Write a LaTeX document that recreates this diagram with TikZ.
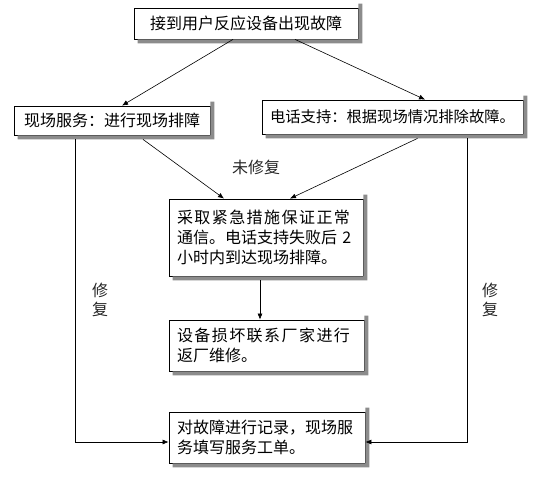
\documentclass[tikz,border=0pt]{standalone}
\usepackage{fontspec}
\setmainfont{Noto Sans CJK SC}
\newfontfamily\cjksp[LetterSpace=9]{Noto Sans CJK SC}
\usetikzlibrary{arrows.meta}
\begin{document}
\begin{tikzpicture}[x=1pt,y=-1pt,
  box/.style={draw=black,line width=0.8pt,fill=white,rectangle,inner sep=0pt,
    font=\fontsize{16}{20}\selectfont},
  tbox/.style={box,align=left,text width=#1,inner xsep=8pt},
  arr/.style={draw=black,line width=0.6pt,-{Latex[length=6pt,width=5pt]}},
  shadowfill/.style={fill=black!45,draw=none},
  lbl/.style={font=\fontsize{16}{19}\selectfont,align=center,text=black!85}]
\useasboundingbox (0,0) rectangle (535,484);
\node[box,minimum width=224pt,minimum height=31pt] (b1) at (246,23.5) {接到用户反应设备出现故障};
\node[box,minimum width=196pt,minimum height=29pt] (b2) at (112,120.5) {现场服务：进行现场排障};
\node[box,minimum width=261pt,minimum height=34pt,font=\fontsize{15.3}{20}\selectfont] (b3) at (392.5,117) {电话支持：根据现场情况排除故障。};
\node[tbox=178pt,minimum height=77pt] (b4) at (266,237.5) {{\cjksp 采取紧急措施保证正常}\\通信。电话支持失败后 2\\小时内到达现场排障。};
\node[tbox=179pt,minimum height=51pt] (b5) at (266.5,345.5) {{\cjksp 设备损坏联系厂家进行}\\返厂维修。};
\node[tbox=180pt,minimum height=51pt] (b6) at (267,437.5) {对故障进行记录，现场服\\务填写服务工单。};
\foreach \n in {b1,b2,b3,b4,b5,b6}{
  \path[shadowfill] ([xshift=4pt]\n.south west) -- ([xshift=4pt,yshift=-4pt]\n.south west)
    -- ([xshift=4pt,yshift=-4pt]\n.south east) -- ([xshift=4pt,yshift=4pt]\n.north east)
    -- ([yshift=4pt]\n.north east) -- (\n.south east) -- cycle;
}
\node[lbl] (l1) at (256,167) {未修复};
\node[lbl] (l2) at (100,300) {修\\复};
\node[lbl] (l3) at (490,300) {修\\复};
\draw[arr] ([xshift=-13pt]b1.south) -- ([xshift=10pt]b2.north);
\draw[arr] ([xshift=49pt]b1.south) -- ([xshift=32.5pt]b3.north);
\draw[arr] ([xshift=31pt,yshift=-4pt]b2.south) -- ([xshift=-42pt]b4.north);
\draw[arr] ([xshift=25pt,yshift=-4pt]b3.south) -- ([xshift=24pt]b4.north);
\draw[arr] ([xshift=-6pt,yshift=-4pt]b4.south) -- ([xshift=-6.5pt]b5.north);
\draw[arr] ([xshift=-37pt,yshift=-4pt]b2.south) |- ([yshift=-4.5pt]b6.west);
\draw[arr] ([xshift=74.5pt,yshift=-4pt]b3.south) |- ([yshift=-4.5pt]b6.east);
\end{tikzpicture}
\end{document}
